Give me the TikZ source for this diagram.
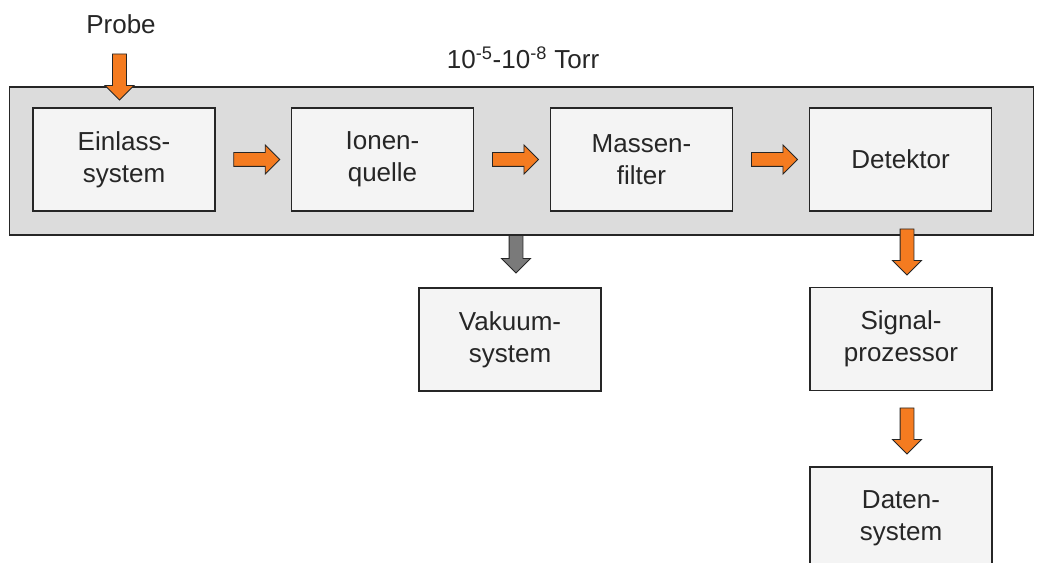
\documentclass[tikz,border=0pt]{standalone}
\usepackage{fontspec}
\setmainfont{Liberation Sans}
\usetikzlibrary{shapes.arrows}

\definecolor{bandgray}{HTML}{DCDCDC}
\definecolor{boxgray}{HTML}{F4F4F4}
\definecolor{arroworange}{HTML}{F47B20}
\definecolor{arrowgray}{HTML}{7A7A7A}

\begin{document}
\begin{tikzpicture}[x=0.025cm, y=-0.025cm,
  every node/.style={font=\fontsize{18.5}{22.8}\selectfont, text=black!85},
  chamber/.style={draw=black!85, fill=bandgray, line width=0.8pt,
    minimum width=25.575cm, minimum height=3.7cm, inner sep=0pt},
  unit/.style={draw=black!85, fill=boxgray, line width=0.8pt,
    minimum width=4.55cm, minimum height=2.575cm, align=center, inner sep=0pt},
  flowarrow/.style={single arrow, draw=black!85, fill=arroworange, line width=0.6pt,
    inner xsep=0pt, inner ysep=0.1625cm, minimum width=0pt, minimum height=1.15cm,
    single arrow head extend=0.19cm},
  downarrow/.style={flowarrow, rotate=-90},
  pumparrow/.style={downarrow, fill=arrowgray}]
  \clip (0,0) rectangle (1044,563);

  % vacuum chamber
  \node[pumparrow] (pump) at (516,246.5) {};
  \node[chamber] (chamber) at (521.5,161) {};
  \node (torr) at (523,58) {10\textsuperscript{-5}-10\textsuperscript{-8} Torr};
  \node (probe) at (121,24) {Probe};

  \node[unit] (ein) at (124,159.5) {Einlass-\\system};
  \node[unit] (ion) at (382.5,159.5) {Ionen-\\quelle};
  \node[unit] (mass) at (641.5,159.5) {Massen-\\filter};
  \node[unit] (det) at (900.5,159.5) {Detektor};
  \node[unit] (vak) at (510,339.5) {Vakuum-\\system};
  \node[unit] (sig) at (901,339) {Signal-\\prozessor};
  \node[unit] (dat) at (901,518.5) {Daten-\\system};

  \path (ein) -- node[flowarrow] {} (ion)
        (ion) -- node[flowarrow] {} (mass)
        (mass) -- node[flowarrow] {} (det);
  \node[downarrow] (inlet) at (119.5,73.5) {};
  \node[downarrow] (out) at (907,248.5) {};
  \node[downarrow] (data) at (907,427.5) {};
\end{tikzpicture}
\end{document}
